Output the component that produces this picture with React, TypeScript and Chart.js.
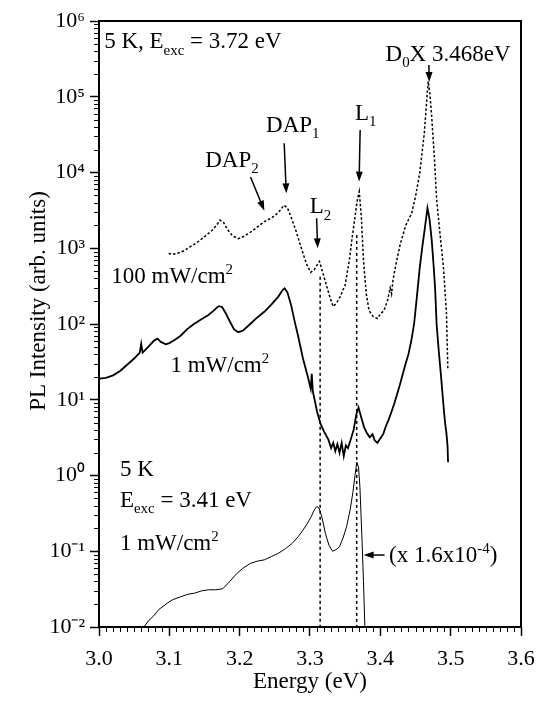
import React, { useEffect, useRef } from 'react';
import { Chart, registerables } from 'chart.js';
Chart.register(...registerables);

// ---- data: 100 mW/cm^2, Eexc = 3.72 eV (dotted)
const E_100 = [3.099, 3.105, 3.112, 3.12, 3.13, 3.14, 3.15, 3.16, 3.167, 3.172, 3.177, 3.183, 3.19, 3.198, 3.205, 3.215, 3.225, 3.235, 3.245, 3.252, 3.258, 3.263, 3.268, 3.273, 3.28, 3.287, 3.295, 3.301, 3.306, 3.31, 3.3135, 3.317, 3.322, 3.328, 3.333, 3.338, 3.343, 3.35, 3.356, 3.36, 3.364, 3.367, 3.37, 3.373, 3.376, 3.38, 3.384, 3.39, 3.396, 3.4, 3.405, 3.41, 3.414, 3.416, 3.418, 3.422, 3.428, 3.436, 3.4446, 3.45, 3.456, 3.4625, 3.466, 3.468, 3.4705, 3.473, 3.477, 3.48, 3.485, 3.4896, 3.494, 3.495, 3.496];
const I_100 = [850, 830, 860, 920, 1050, 1200, 1420, 1700, 2000, 2350, 2200, 1750, 1450, 1340, 1420, 1620, 1900, 2250, 2500, 2800, 3200, 3700, 3400, 2600, 1700, 1050, 620, 480, 520, 600, 670, 520, 360, 230, 170, 190, 230, 330, 700, 1400, 2600, 4200, 5600, 2600, 700, 250, 150, 125, 118, 135, 150, 200, 300, 250, 380, 600, 1100, 2000, 2900, 4800, 9800, 33000, 90000, 160000, 110000, 55000, 15000, 4400, 1500, 580, 140, 60, 25];

// ---- data: 1 mW/cm^2, Eexc = 3.72 eV (solid)
const E_1 = [3.0, 3.01, 3.02, 3.03, 3.04, 3.05, 3.058, 3.06, 3.062, 3.07, 3.078, 3.083, 3.088, 3.095, 3.1, 3.108, 3.116, 3.125, 3.135, 3.145, 3.155, 3.163, 3.17, 3.175, 3.18, 3.186, 3.192, 3.198, 3.205, 3.215, 3.225, 3.235, 3.245, 3.255, 3.261, 3.264, 3.268, 3.273, 3.278, 3.283, 3.29, 3.297, 3.301, 3.3025, 3.304, 3.31, 3.315, 3.32, 3.326, 3.33, 3.333, 3.336, 3.339, 3.342, 3.345, 3.348, 3.351, 3.354, 3.358, 3.362, 3.366, 3.369, 3.373, 3.377, 3.381, 3.385, 3.389, 3.392, 3.396, 3.4, 3.404, 3.408, 3.412, 3.416, 3.42, 3.424, 3.428, 3.432, 3.436, 3.44, 3.444, 3.448, 3.452, 3.456, 3.46, 3.4635, 3.467, 3.47, 3.473, 3.476, 3.478, 3.48, 3.483, 3.486, 3.49, 3.492, 3.494, 3.4955, 3.4963];
const I_1 = [19, 19.5, 21, 24, 29, 35, 42, 55, 42, 50, 60, 64, 58, 54, 56, 62, 70, 85, 100, 115, 130, 150, 172, 168, 140, 108, 85, 78, 82, 100, 122, 145, 180, 230, 280, 295, 260, 180, 110, 70, 35, 20, 14, 22, 13, 7, 4.8, 3.8, 3.0, 2.3, 2.7, 2.1, 2.6, 2.0, 2.7, 1.8, 2.5, 2.3, 3.0, 4.0, 6.5, 7.9, 5.8, 4.3, 3.6, 3.2, 3.5, 2.9, 2.7, 3.1, 3.5, 4.5, 5.5, 7.0, 9.0, 12, 16, 22, 30, 40, 60, 100, 230, 550, 1100, 1900, 3400, 2400, 1300, 550, 280, 100, 45, 22, 8, 5, 3.6, 2.5, 1.5];

// ---- data: 1 mW/cm^2, Eexc = 3.41 eV (thin, x 1.6e-4)
const E_341 = [3.064, 3.07, 3.077, 3.085, 3.097, 3.105, 3.116, 3.126, 3.136, 3.146, 3.156, 3.166, 3.176, 3.186, 3.196, 3.205, 3.215, 3.225, 3.235, 3.245, 3.255, 3.265, 3.275, 3.283, 3.29, 3.296, 3.302, 3.306, 3.3096, 3.313, 3.317, 3.322, 3.327, 3.332, 3.337, 3.342, 3.347, 3.352, 3.357, 3.361, 3.364, 3.3665, 3.369, 3.371, 3.374, 3.376, 3.378];
const I_341 = [0.01, 0.012, 0.0138, 0.017, 0.0206, 0.023, 0.025, 0.027, 0.028, 0.03, 0.031, 0.031, 0.032, 0.04, 0.051, 0.06, 0.069, 0.074, 0.077, 0.085, 0.094, 0.108, 0.128, 0.155, 0.19, 0.23, 0.29, 0.35, 0.39, 0.37, 0.28, 0.17, 0.12, 0.1, 0.105, 0.115, 0.15, 0.21, 0.35, 0.6, 1.0, 1.5, 1.3, 0.7, 0.14, 0.04, 0.01];

// ---- marker lines (L2, L1)
const MARK_E = [3.3144, 3.3664];
const MARK_TOP = [420, 1500];

// ---- axes
const X_MIN = 3.0, X_MAX = 3.6, X_STEP = 0.1, X_MINOR = 0.01;
const Y_EXP = [-2, -1, 0, 1, 2, 3, 4, 5, 6];

type Seg = { t: string; s?: 'sub' | 'sup' };
type Label = { x: number; y: number; segs: Seg[] };
const LABELS: Label[] = [
  { x: 3.0074, y: 10 ** 5.64, segs: [{ t: '5 K, E' }, { t: 'exc', s: 'sub' }, { t: ' = 3.72 eV' }] },
  { x: 3.4074, y: 10 ** 5.476, segs: [{ t: 'D' }, { t: '0', s: 'sub' }, { t: 'X 3.468eV' }] },
  { x: 3.364, y: 10 ** 4.693, segs: [{ t: 'L' }, { t: '1', s: 'sub' }] },
  { x: 3.2376, y: 10 ** 4.54, segs: [{ t: 'DAP' }, { t: '1', s: 'sub' }] },
  { x: 3.151, y: 10 ** 4.077, segs: [{ t: 'DAP' }, { t: '2', s: 'sub' }] },
  { x: 3.2996, y: 10 ** 3.46, segs: [{ t: 'L' }, { t: '2', s: 'sub' }] },
  { x: 3.0174, y: 10 ** 2.537, segs: [{ t: '100 mW/cm' }, { t: '2', s: 'sup' }] },
  { x: 3.1015, y: 10 ** 1.37, segs: [{ t: '1 mW/cm' }, { t: '2', s: 'sup' }] },
  { x: 3.0297, y: 10 ** 0.0, segs: [{ t: '5 K' }] },
  { x: 3.0297, y: 10 ** -0.41, segs: [{ t: 'E' }, { t: 'exc', s: 'sub' }, { t: ' = 3.41 eV' }] },
  { x: 3.0297, y: 10 ** -0.98, segs: [{ t: '1 mW/cm' }, { t: '2', s: 'sup' }] },
  { x: 3.4124, y: 10 ** -1.14, segs: [{ t: '(x 1.6x10' }, { t: '-4', s: 'sup' }, { t: ')' }] },
];
const ARROWS = [
  { x1: 3.2154, y1: 10 ** 3.94, x2: 3.2351, y2: 10 ** 3.496 },
  { x1: 3.2633, y1: 10 ** 4.385, x2: 3.2663, y2: 10 ** 3.725 },
  { x1: 3.3094, y1: 10 ** 3.395, x2: 3.3109, y2: 10 ** 3.0 },
  { x1: 3.3713, y1: 10 ** 4.56, x2: 3.3698, y2: 10 ** 3.88 },
  { x1: 3.469, y1: 10 ** 5.42, x2: 3.4695, y2: 10 ** 5.195 },
  { x1: 3.406, y1: 10 ** -1.05, x2: 3.3762, y2: 10 ** -1.05 },
];

const FONT = '"Liberation Serif", "Times New Roman", serif';
const SUP: Record<string, string> = { '-': '⁻', '0': '⁰', '1': '¹', '2': '²', '3': '³', '4': '⁴', '5': '⁵', '6': '⁶', '7': '⁷', '8': '⁸', '9': '⁹' };
const supStr = (n: number) => String(n).split('').map((c) => SUP[c]).join('');

const pts = (xs: number[], ys: number[]) => xs.map((x, i) => ({ x, y: ys[i] }));

function drawRich(ctx: CanvasRenderingContext2D, x: number, y: number, segs: Seg[], size: number) {
  let cx = x;
  for (const s of segs) {
    const fs = s.s ? size * 0.65 : size;
    ctx.font = `${fs}px ${FONT}`;
    const dy = s.s === 'sub' ? size * 0.28 : s.s === 'sup' ? -size * 0.4 : 0;
    ctx.fillText(s.t, cx, y + dy);
    cx += ctx.measureText(s.t).width;
  }
}

function drawArrow(ctx: CanvasRenderingContext2D, x1: number, y1: number, x2: number, y2: number) {
  const a = Math.atan2(y2 - y1, x2 - x1);
  const hl = 10, hw = 3.5;
  const c = Math.cos(a), s = Math.sin(a);
  ctx.beginPath();
  ctx.moveTo(x1, y1);
  ctx.lineTo(x2 - hl * 0.8 * c, y2 - hl * 0.8 * s);
  ctx.stroke();
  ctx.beginPath();
  ctx.moveTo(x2, y2);
  ctx.lineTo(x2 - hl * c + hw * s, y2 - hl * s - hw * c);
  ctx.lineTo(x2 - hl * c - hw * s, y2 - hl * s + hw * c);
  ctx.closePath();
  ctx.fill();
}

const decorPlugin = {
  id: 'decor',
  afterDraw(chart: any) {
    const { ctx, chartArea: ca, scales } = chart;
    const xs = scales.x, ys = scales.y;
    ctx.save();
    ctx.strokeStyle = '#000';
    ctx.fillStyle = '#000';
    // frame
    ctx.lineWidth = 2;
    ctx.strokeRect(ca.left, ca.top, ca.right - ca.left, ca.bottom - ca.top);
    // minor ticks
    ctx.lineWidth = 1;
    ctx.beginPath();
    const n = Math.round((X_MAX - X_MIN) / X_MINOR);
    for (let i = 1; i < n; i++) {
      if (i % 10 === 0) continue;
      const px = Math.round(xs.getPixelForValue(X_MIN + i * X_MINOR)) + 0.5;
      ctx.moveTo(px, ca.bottom);
      ctx.lineTo(px, ca.bottom + 5);
    }
    for (let e = Y_EXP[0]; e < Y_EXP[Y_EXP.length - 1]; e++) {
      for (let m = 2; m <= 9; m++) {
        const py = Math.round(ys.getPixelForValue(m * 10 ** e)) + 0.5;
        ctx.moveTo(ca.left - 5, py);
        ctx.lineTo(ca.left, py);
      }
    }
    ctx.stroke();
    // y title
    ctx.save();
    ctx.translate(ca.left - 54, (ca.top + ca.bottom) / 2 - 23);
    ctx.rotate(-Math.PI / 2);
    ctx.textAlign = 'center';
    ctx.textBaseline = 'alphabetic';
    ctx.font = `23px ${FONT}`;
    ctx.fillText('PL Intensity (arb. units)', 0, 0);
    ctx.restore();
    // labels
    ctx.textAlign = 'left';
    ctx.textBaseline = 'alphabetic';
    for (const l of LABELS) {
      drawRich(ctx, xs.getPixelForValue(l.x), ys.getPixelForValue(l.y), l.segs, 23);
    }
    // arrows
    ctx.lineWidth = 1.5;
    for (const a of ARROWS) {
      drawArrow(ctx, xs.getPixelForValue(a.x1), ys.getPixelForValue(a.y1), xs.getPixelForValue(a.x2), ys.getPixelForValue(a.y2));
    }
    ctx.restore();
  },
};

export default function App() {
  const ref = useRef<HTMLCanvasElement>(null);
  useEffect(() => {
    if (!ref.current) return;
    const chart = new Chart(ref.current, {
      type: 'line',
      data: {
        datasets: [
          { label: '100 mW/cm²', data: pts(E_100, I_100), borderColor: '#000', borderWidth: 1.5, borderDash: [2.5, 2], pointRadius: 0, tension: 0 },
          { label: '1 mW/cm²', data: pts(E_1, I_1), borderColor: '#000', borderWidth: 1.8, pointRadius: 0, tension: 0 },
          { label: 'Eexc = 3.41 eV', data: pts(E_341, I_341), borderColor: '#000', borderWidth: 1, pointRadius: 0, tension: 0 },
          ...MARK_E.map((e, i) => ({
            label: i === 0 ? 'L2' : 'L1',
            data: [{ x: e, y: MARK_TOP[i] }, { x: e, y: 10 ** Y_EXP[0] }],
            borderColor: '#000', borderWidth: 1.5, borderDash: [3, 3], pointRadius: 0,
          })),
        ],
      } as any,
      options: {
        animation: false,
        responsive: false,
        devicePixelRatio: 1,
        layout: { padding: { top: 21, right: 25, left: 0, bottom: 0 } },
        plugins: { legend: { display: false }, tooltip: { enabled: false } },
        scales: {
          x: {
            type: 'linear',
            min: X_MIN,
            max: X_MAX,
            border: { display: false },
            grid: { drawOnChartArea: false, drawTicks: true, tickLength: 9, tickWidth: 1.5, tickColor: '#000' },
            ticks: { stepSize: X_STEP, color: '#000', font: { family: FONT, size: 22 }, padding: 10, maxRotation: 0, autoSkip: false, callback: (v: any) => Number(v).toFixed(1) },
            title: { display: true, text: 'Energy (eV)', color: '#000', font: { family: FONT, size: 23 }, padding: { top: 0, bottom: 10 } },
            afterFit: (s: any) => { s.height = 79; },
          },
          y: {
            type: 'logarithmic',
            min: 10 ** Y_EXP[0],
            max: 10 ** Y_EXP[Y_EXP.length - 1],
            border: { display: false },
            grid: { drawOnChartArea: false, drawTicks: true, tickLength: 9, tickWidth: 1.5, tickColor: '#000' },
            ticks: { color: '#000', font: { family: FONT, size: 22 }, padding: 5, autoSkip: false, callback: (v: any) => '10' + supStr(Math.round(Math.log10(Number(v)))) },
            afterBuildTicks: (s: any) => { s.ticks = Y_EXP.map((e) => ({ value: 10 ** e })); },
            afterFit: (s: any) => { s.width = 99; },
          },
        },
      } as any,
      plugins: [decorPlugin],
    });
    return () => chart.destroy();
  }, []);
  return (
    <div style={{ position: 'absolute', left: 0, top: 0, width: 546, height: 706, background: '#fff' }}>
      <canvas ref={ref} width={546} height={706} />
    </div>
  );
}
